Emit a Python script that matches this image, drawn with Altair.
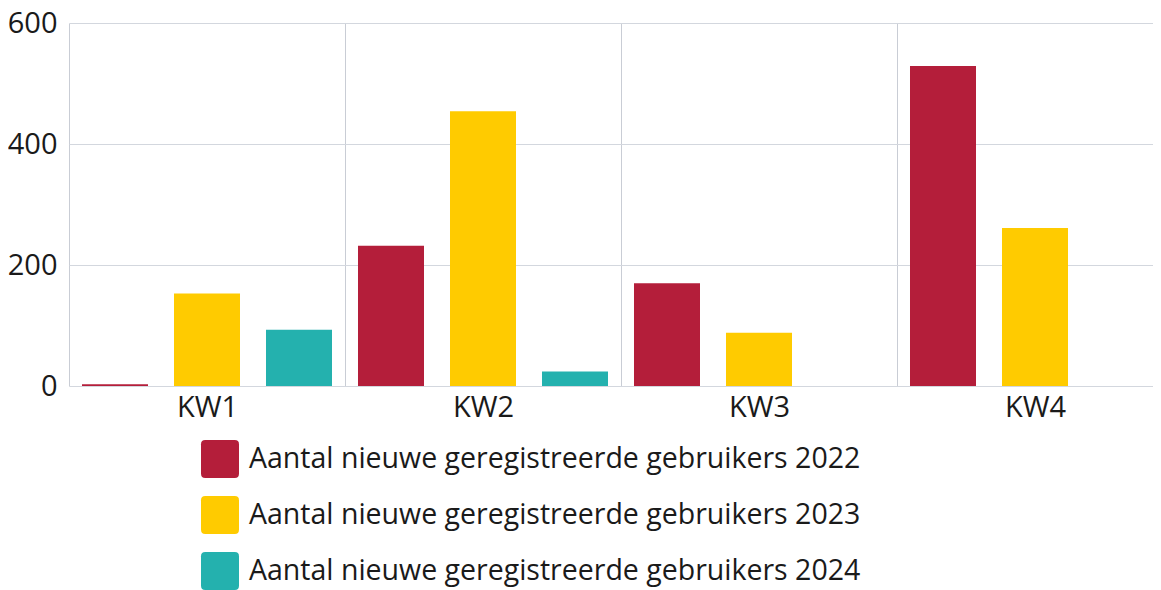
import altair as alt
import pandas as pd

quarters = ["KW1", "KW2", "KW3", "KW4"]
series = [
    "Aantal nieuwe geregistreerde gebruikers 2022",
    "Aantal nieuwe geregistreerde gebruikers 2023",
    "Aantal nieuwe geregistreerde gebruikers 2024",
]
values_2022 = [3, 232, 170, 529]
values_2023 = [153, 454, 88, 261]
values_2024 = [93, 24, None, None]
colors = ["#B41E3A", "#FFCB00", "#24B1AE"]
y_ticks = [0, 200, 400, 600]

rows = []
for s, vals in zip(series, [values_2022, values_2023, values_2024]):
    for q, v in zip(quarters, vals):
        if v is not None:
            rows.append({"kwartaal": q, "reeks": s, "aantal": v})
df = pd.DataFrame(rows)

FONT = "Open Sans"
rounded = ("M -0.78,-1 L 0.78,-1 Q 1,-1 1,-0.78 L 1,0.78 Q 1,1 0.78,1 "
           "L -0.78,1 Q -1,1 -1,0.78 L -1,-0.78 Q -1,-1 -0.78,-1 Z")

chart = alt.Chart(df).mark_bar().encode(
    x=alt.X(
        "kwartaal:N",
        sort=quarters,
        title=None,
        scale=alt.Scale(paddingInner=0, paddingOuter=0),
        axis=alt.Axis(
            tickBand="extent", grid=True, gridColor="#c9cdd5", domain=False,
            ticks=False, labelAngle=0, labelFontSize=29, labelFont=FONT,
            labelColor="#1a1a1a", labelPadding=7,
        ),
    ),
    xOffset=alt.XOffset(
        "reeks:N", sort=series,
        scale=alt.Scale(paddingInner=0.2826, paddingOuter=0.1413),
    ),
    y=alt.Y(
        "aantal:Q",
        title=None,
        scale=alt.Scale(domain=[0, 600], nice=False),
        axis=alt.Axis(
            values=y_ticks, grid=True, gridColor="#d3d7de", domain=False,
            ticks=False, labelFontSize=29, labelFont=FONT,
            labelColor="#1a1a1a", labelPadding=12,
        ),
    ),
    color=alt.Color(
        "reeks:N",
        sort=series,
        scale=alt.Scale(domain=series, range=colors),
        legend=alt.Legend(
            title=None, orient="none", legendX=132, legendY=417,
            direction="vertical", symbolType=rounded, symbolSize=1444,
            symbolStrokeWidth=0, labelFontSize=28.5, labelFont=FONT,
            labelColor="#1a1a1a", rowPadding=18, labelOffset=10,
            padding=0, labelLimit=0,
        ),
    ),
).properties(
    width=1104,
    height=363,
    autosize=alt.AutoSizeParams(type="none"),
    padding={"left": 61, "top": 15, "right": -20, "bottom": 204},
).configure_view(strokeWidth=0)

chart.save("out.html", embed_options={"renderer": "svg", "actions": False})
